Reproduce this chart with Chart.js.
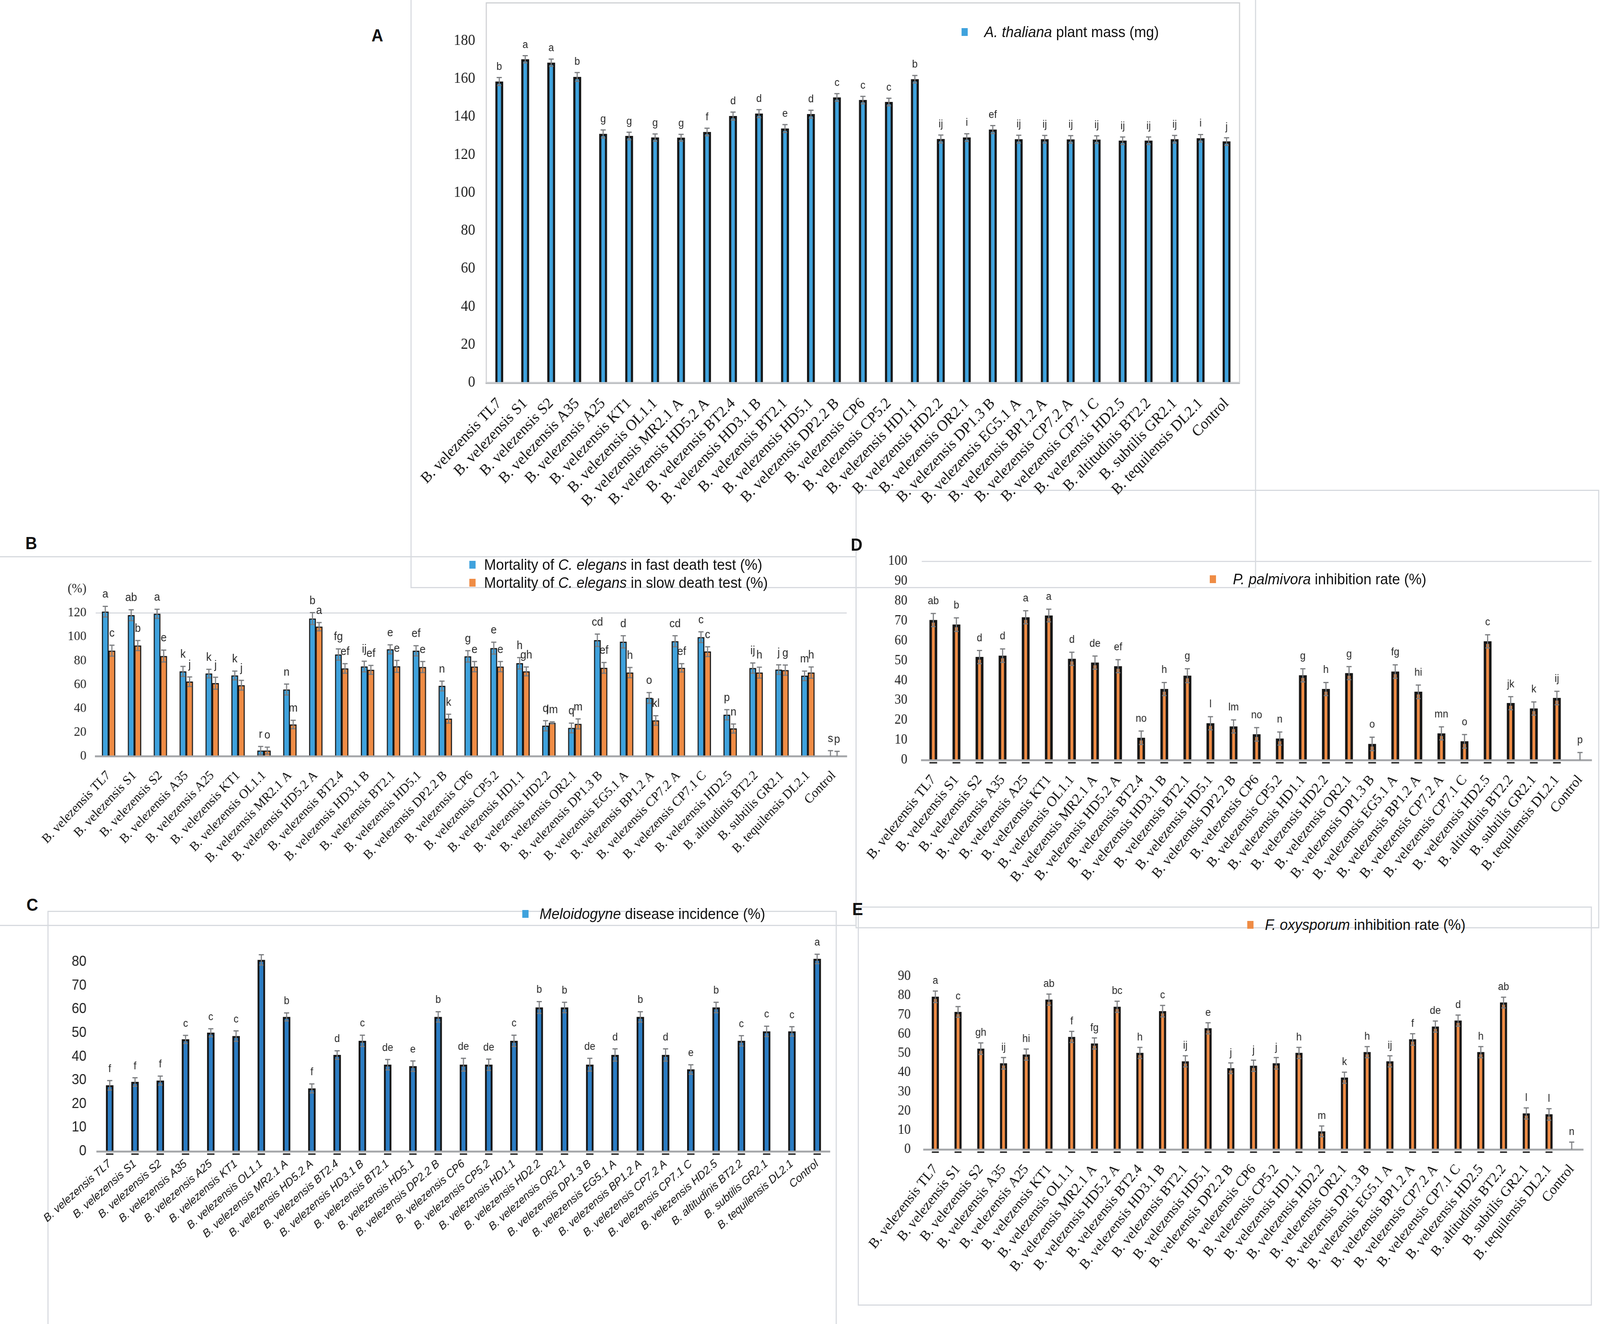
<!DOCTYPE html>
<html>
<head>
<meta charset="utf-8">
<script src="https://cdn.jsdelivr.net/npm/chart.js@4.4.1/dist/chart.umd.min.js"></script>
<style>
  html, body { margin: 0; padding: 0; background: #fff; overflow: hidden; }
  #page { position: relative; width: 4350px; height: 3390px; overflow: hidden; background: #fff; font-family: "Liberation Sans", Arial, sans-serif; transform-origin: 0 0; }
  .frame { position: absolute; border: 3px solid #d7dadf; box-sizing: border-box; }
  canvas { position: absolute; }
  .tag { position: absolute; font-weight: bold; font-size: 44px; line-height: 50px; color: #111; }
  .leg { position: absolute; font-size: 39px; line-height: 44px; white-space: nowrap; color: #111; transform: translateY(-50%); }
  .sq { position: absolute; top: 50%; width: 17px; height: 20px; margin-top: -10px; }
</style>
</head>
<body>
<div id="page">
  <div class="frame" style="left:1116px;top:-10px;width:2299px;height:1516px"></div>
  <div class="frame" style="left:-3px;top:1424px;width:2332px;height:947px"></div>
  <div class="frame" style="left:2326px;top:1254px;width:2022px;height:1123px"></div>
  <div class="frame" style="left:129px;top:2332px;width:2146px;height:1100px"></div>
  <div class="frame" style="left:2332px;top:2321px;width:1996px;height:1022px"></div>

  <canvas id="chartA"></canvas>
  <canvas id="chartB"></canvas>
  <canvas id="chartC"></canvas>
  <canvas id="chartD"></canvas>
  <canvas id="chartE"></canvas>

  <div class="tag" style="left:1010px;top:66px">A</div>
  <div class="tag" style="left:69px;top:1366px">B</div>
  <div class="tag" style="left:72px;top:2292px">C</div>
  <div class="tag" style="left:2313px;top:1370px">D</div>
  <div class="tag" style="left:2317px;top:2303px">E</div>

  <div class="leg" style="left:2676px;top:82px"><span class="sq" style="left:-62px;background:#3fa2dd"></span><i>A. thaliana</i> plant mass (mg)</div>
  <div class="leg" style="left:1316px;top:1446px"><span class="sq" style="left:-40px;background:#3fa2dd"></span>Mortality of <i>C. elegans</i> in fast death test (%)</div>
  <div class="leg" style="left:1316px;top:1492px"><span class="sq" style="left:-40px;background:#ef8c45"></span>Mortality of <i>C. elegans</i> in slow death test (%)</div>
  <div class="leg" style="left:1467px;top:2340px"><span class="sq" style="left:-47px;background:#3fa2dd"></span><i>Meloidogyne</i> disease incidence (%)</div>
  <div class="leg" style="left:3352px;top:1483px"><span class="sq" style="left:-63px;background:#ef8c45"></span><i>P. palmivora</i> inhibition rate (%)</div>
  <div class="leg" style="left:3439px;top:2368px"><span class="sq" style="left:-48px;background:#ef8c45"></span><i>F. oxysporum</i> inhibition rate (%)</div>
</div>

<script>
var strains = ['B. velezensis TL7', 'B. velezensis S1', 'B. velezensis S2', 'B. velezensis A35', 'B. velezensis A25',
  'B. velezensis KT1', 'B. velezensis OL1.1', 'B. velezensis MR2.1 A', 'B. velezensis HD5.2 A', 'B. velezensis BT2.4',
  'B. velezensis HD3.1 B', 'B. velezensis BT2.1', 'B. velezensis HD5.1', 'B. velezensis DP2.2 B', 'B. velezensis CP6',
  'B. velezensis CP5.2', 'B. velezensis HD1.1', 'B. velezensis HD2.2', 'B. velezensis OR2.1', 'B. velezensis DP1.3 B',
  'B. velezensis EG5.1 A', 'B. velezensis BP1.2 A', 'B. velezensis CP7.2 A', 'B. velezensis CP7.1 C', 'B. velezensis HD2.5',
  'B. altitudinis BT2.2', 'B. subtilis GR2.1', 'B. tequilensis DL2.1', 'Control'];

// A - plant mass (mg)
var plantMass = [158.6, 170.3, 168.5, 161.0, 131.0, 129.9, 129.1, 129.0, 132.0, 140.4, 141.7, 133.8, 141.4, 150.2, 148.8,
  147.8, 159.8, 128.3, 129.1, 133.3, 128.2, 128.2, 128.1, 128.0, 127.4, 127.4, 128.2, 128.7, 127.0];
var plantMassErr = [2.1, 1.9, 1.9, 2.3, 2.1, 2.0, 1.9, 1.8, 2.0, 2.1, 2.1, 2.1, 2.1, 2.0, 2.0,
  2.0, 2.0, 2.1, 2.0, 2.1, 2.1, 2.0, 2.0, 2.0, 2.0, 2.0, 2.0, 2.0, 2.0];
var plantMassSig = ['b', 'a', 'a', 'b', 'g', 'g', 'g', 'g', 'f', 'd', 'd', 'e', 'd', 'c', 'c',
  'c', 'b', 'ij', 'i', 'ef', 'ij', 'ij', 'ij', 'ij', 'ij', 'ij', 'ij', 'i', 'j'];

// B - C. elegans mortality (%)
var fastDeath = [121.1, 118.1, 119.3, 71.0, 69.2, 67.6, 4.6, 55.8, 115.3, 85.2, 75.1, 89.5, 88.3, 58.8, 83.6,
  90.5, 77.8, 25.4, 23.6, 97.1, 95.8, 48.8, 96.3, 99.7, 34.7, 73.8, 72.5, 67.3, 0];
var fastErr = [4.5, 4.6, 3.8, 4.2, 3.6, 3.7, 3.5, 4.6, 5.0, 4.7, 4.5, 3.8, 4.3, 4.1, 4.8,
  5.0, 4.8, 4.3, 4.1, 5.2, 5.1, 4.5, 4.6, 4.5, 4.3, 4.3, 4.0, 4.0, 4.6];
var fastSig = ['a', 'ab', 'a', 'k', 'k', 'k', 'r', 'n', 'b', 'fg', 'ij', 'e', 'ef', 'n', 'g',
  'e', 'h', 'q', 'q', 'cd', 'd', 'o', 'cd', 'c', 'p', 'ij', 'j', 'm', 's'];
var slowDeath = [88.4, 92.7, 83.9, 62.4, 61.1, 59.4, 4.6, 26.5, 108.5, 73.5, 72.3, 75.2, 74.7, 31.4, 75.0,
  75.0, 71.0, 27.9, 27.0, 74.0, 70.0, 29.9, 74.0, 87.6, 23.1, 70.0, 72.1, 70.0, 0];
var slowErr = [4.6, 4.2, 5.0, 4.0, 5.0, 4.1, 2.9, 3.5, 3.5, 4.0, 3.7, 5.0, 4.6, 3.7, 4.3,
  4.3, 3.7, 0.8, 4.2, 4.5, 4.3, 4.0, 3.5, 4.1, 3.8, 4.6, 4.3, 4.7, 4.0];
var slowSig = ['c', 'b', 'e', 'j', 'j', 'j', 'o', 'm', 'a', 'ef', 'ef', 'e', 'e', 'k', 'e',
  'e', 'gh', 'lm', 'm', 'ef', 'h', 'kl', 'ef', 'c', 'n', 'h', 'g', 'h', 'p'];

// C - Meloidogyne disease incidence (%)
var meloidogyne = [27.9, 29.3, 29.9, 47.3, 50.1, 48.7, 80.9, 56.8, 26.6, 40.7, 46.7, 36.6, 36.0, 56.8, 36.6,
  36.6, 46.7, 60.8, 60.8, 36.6, 40.7, 56.8, 40.7, 34.6, 60.8, 46.7, 50.7, 50.7, 81.3];
var meloErr = [2.0, 1.8, 1.9, 1.7, 1.7, 2.2, 2.2, 1.7, 1.9, 1.8, 2.4, 2.2, 2.2, 2.2, 2.7,
  2.4, 2.4, 2.5, 2.2, 2.7, 2.6, 2.2, 2.6, 2.0, 2.2, 2.2, 2.2, 2.0, 2.0];
var meloSig = ['f', 'f', 'f', 'c', 'c', 'c', '', 'b', 'f', 'd', 'c', 'de', 'e', 'b', 'de',
  'de', 'c', 'b', 'b', 'de', 'd', 'b', 'd', 'e', 'b', 'c', 'c', 'c', 'a'];

// D - P. palmivora inhibition rate (%)
var palmivora = [70.4, 68.1, 51.8, 52.5, 71.8, 72.7, 50.9, 49.0, 47.2, 11.2, 35.7, 42.4, 18.5, 16.9, 12.9,
  10.8, 42.6, 35.7, 43.7, 8.1, 44.5, 34.3, 13.4, 9.4, 59.7, 28.6, 25.9, 31.2, 0];
var palmErr = [3.3, 3.4, 3.3, 3.4, 3.3, 3.2, 3.3, 3.3, 3.3, 3.4, 3.3, 3.5, 3.3, 3.3, 3.4,
  3.3, 3.3, 3.3, 3.3, 3.4, 3.4, 3.4, 3.3, 3.4, 3.3, 3.3, 3.3, 3.4, 3.8];
var palmSig = ['ab', 'b', 'd', 'd', 'a', 'a', 'd', 'de', 'ef', 'no', 'h', 'g', 'l', 'lm', 'no',
  'n', 'g', 'h', 'g', 'o', 'fg', 'hi', 'mn', 'o', 'c', 'jk', 'k', 'ij', 'p'];

// E - F. oxysporum inhibition rate (%)
var oxysporum = [79.4, 71.5, 52.4, 44.8, 49.3, 77.9, 58.5, 55.1, 74.2, 50.2, 71.9, 45.8, 63.0, 42.2, 43.5,
  44.8, 50.2, 9.4, 37.3, 50.6, 45.8, 57.2, 63.9, 67.0, 50.6, 76.4, 18.7, 18.2, 0];
var oxyErr = [3.0, 2.8, 3.0, 3.0, 2.9, 2.9, 2.9, 2.9, 2.9, 2.9, 3.0, 2.9, 2.9, 2.8, 2.9,
  3.0, 2.9, 2.8, 2.9, 2.9, 2.9, 3.0, 2.9, 2.9, 2.9, 2.8, 2.9, 3.0, 3.8];
var oxySig = ['a', 'c', 'gh', 'ij', 'hi', 'ab', 'f', 'fg', 'bc', 'h', 'c', 'ij', 'e', 'j', 'j',
  'j', 'h', 'm', 'k', 'h', 'ij', 'f', 'de', 'd', 'h', 'ab', 'l', 'l', 'n'];

var BLUE = '#3fa2dd';
var BLUE_DARK = '#2b7cc3';
var ORANGE = '#ef8c45';
var SERIF = '"Liberation Serif", "Times New Roman", serif';
var SANS = '"Liberation Sans", Arial, sans-serif';

// the page is laid out at 4350x3390; squeeze it into whatever viewport we get
function fitPage() {
  var page = document.getElementById('page');
  var vw = document.documentElement.clientWidth || window.innerWidth;
  var vh = document.documentElement.clientHeight || window.innerHeight;
  var sx = vw / 4350, sy = vh / 3390;
  if (Math.abs(sx - 1) > 0.002 || Math.abs(sy - 1) > 0.002) {
    page.style.transform = 'scale(' + sx + ',' + sy + ')';
  }
}
fitPage();

// error bars + significance letters, drawn through the scales
var barMarks = {
  id: 'barMarks',
  beforeDatasetsDraw: function(chart, args, opts) {
    if (!opts.box) return;
    var a = chart.chartArea, ctx = chart.ctx;
    ctx.save();
    ctx.strokeStyle = '#cfd1d4';
    ctx.lineWidth = 3;
    ctx.strokeRect(a.left, a.top, a.right - a.left, a.bottom - a.top);
    ctx.restore();
  },
  afterDatasetsDraw: function(chart, args, opts) {
    var ctx = chart.ctx, ys = chart.scales.y;
    chart.data.datasets.forEach(function(ds, di) {
      var meta = chart.getDatasetMeta(di);
      meta.data.forEach(function(bar, i) {
        var v = ds.data[i], e = ds.errors[i];
        var x = bar.x;
        var top = ys.getPixelForValue(v + e);
        var bot = ys.getPixelForValue(Math.max(0, v - e));
        ctx.save();
        ctx.strokeStyle = '#7b7d80';
        ctx.lineWidth = 3;
        ctx.beginPath();
        ctx.moveTo(x, bot); ctx.lineTo(x, top);
        ctx.moveTo(x - 7, top); ctx.lineTo(x + 7, top);
        if (v - e > 0) { ctx.moveTo(x - 6, bot); ctx.lineTo(x + 6, bot); }
        ctx.stroke();
        // short dark dash under the axis, as in the original
        if (opts.dash && v > 0) {
          ctx.strokeStyle = '#333';
          ctx.lineWidth = 4;
          ctx.beginPath();
          ctx.moveTo(x - bar.width / 2, ys.bottom + 7);
          ctx.lineTo(x + bar.width / 2, ys.bottom + 7);
          ctx.stroke();
        }
        ctx.fillStyle = '#262626';
        ctx.font = opts.font;
        ctx.textAlign = 'center';
        ctx.textBaseline = 'alphabetic';
        ctx.fillText(ds.sig[i], x, top - opts.gap);
        ctx.restore();
      });
    });
  }
};

function panelChart(id, p) {
  var cv = document.getElementById(id);
  var yw = 260, padTop = 40, padRight = 60;
  var plotW = p.right - p.left, plotH = p.bottom - p.top;
  cv.width = yw + plotW + padRight;
  cv.height = padTop + plotH + p.xh;
  cv.style.left = (p.left - yw) + 'px';
  cv.style.top = (p.top - padTop) + 'px';
  return new Chart(cv, {
    type: 'bar',
    data: { labels: strains, datasets: p.datasets },
    options: {
      responsive: false,
      animation: false,
      devicePixelRatio: 1,
      layout: { padding: { top: padTop, right: padRight, left: 0, bottom: 0 } },
      plugins: {
        legend: { display: false },
        tooltip: { enabled: false },
        barMarks: { font: p.sigFont, gap: p.sigGap, box: !!p.box, dash: !!p.dash }
      },
      scales: {
        x: {
          grid: { display: false, drawTicks: false },
          border: { display: true, color: '#a7a9ac', width: 5 },
          ticks: {
            autoSkip: false, minRotation: p.rot, maxRotation: p.rot, padding: p.xpad,
            color: '#111', font: p.xfont
          },
          afterFit: function(s) { s.height = p.xh; }
        },
        y: {
          min: 0, max: p.max,
          grid: {
            drawTicks: false, lineWidth: 3,
            color: function(c) {
              return (p.gridAt !== undefined && c.tick && c.tick.value === p.gridAt) ? '#d9dbe0' : 'rgba(0,0,0,0)';
            }
          },
          border: { display: false },
          ticks: { stepSize: p.step, padding: p.ypad, color: '#222', font: p.yfont, callback: p.ycb },
          afterFit: function(s) { s.width = yw; }
        }
      }
    },
    plugins: [barMarks]
  });
}

function bars(label, values, errs, sig, color, thick, bw) {
  return {
    label: label, data: values, errors: errs, sig: sig,
    backgroundColor: color, borderColor: '#161616', borderWidth: bw,
    barThickness: thick, borderSkipped: 'start'
  };
}

panelChart('chartA', {
  left: 1322, right: 3370, top: -6, bottom: 980, xh: 380,
  max: 200, step: 20, ycb: function(v) { return v === 200 ? '' : v; },
  rot: 45, xpad: 30, ypad: 30,
  xfont: { family: SERIF, size: 40 }, yfont: { family: SERIF, size: 39 },
  sigFont: '27px ' + SANS, sigGap: 20, box: true,
  datasets: [bars('A. thaliana plant mass (mg)', plantMass, plantMassErr, plantMassSig, BLUE, 21, 6)]
});

panelChart('chartB', {
  left: 260, right: 2302, top: 1503, bottom: 1936, xh: 300,
  max: 140, step: 20, gridAt: 120, ycb: function(v) { return v === 140 ? '(%)' : v; },
  rot: 45, xpad: 30, ypad: 25,
  xfont: { family: SERIF, size: 34 }, yfont: { family: SERIF, size: 34 },
  sigFont: '29px ' + SANS, sigGap: 22,
  datasets: [
    bars('Mortality of C. elegans in fast death test (%)', fastDeath, fastErr, fastSig, BLUE, 18, 3),
    bars('Mortality of C. elegans in slow death test (%)', slowDeath, slowErr, slowSig, ORANGE, 18, 3)
  ]
});

panelChart('chartC', {
  left: 264, right: 2256, top: 2392, bottom: 2948, xh: 260,
  max: 90, step: 10, ycb: function(v) { return v === 90 ? '' : v; },
  rot: 40, xpad: 15, ypad: 29,
  xfont: { family: SANS, size: 29, style: 'italic' }, yfont: { family: SANS, size: 36 },
  sigFont: '27px ' + SANS, sigGap: 22, dash: true,
  datasets: [bars('Meloidogyne disease incidence (%)', meloidogyne, meloErr, meloSig, BLUE_DARK, 20, 5)]
});

panelChart('chartD', {
  left: 2506, right: 4327, top: 1417, bottom: 1946, xh: 340,
  max: 100, step: 10, gridAt: 100,
  rot: 50, xpad: 30, ypad: 39,
  xfont: { family: SERIF, size: 37 }, yfont: { family: SERIF, size: 35 },
  sigFont: '27px ' + SANS, sigGap: 24, dash: true,
  datasets: [bars('P. palmivora inhibition rate (%)', palmivora, palmErr, palmSig, ORANGE, 21, 7)]
});

panelChart('chartE', {
  left: 2512, right: 4304, top: 2483, bottom: 2943, xh: 330,
  max: 90, step: 10,
  rot: 50, xpad: 30, ypad: 36,
  xfont: { family: SERIF, size: 37 }, yfont: { family: SERIF, size: 35 },
  sigFont: '27px ' + SANS, sigGap: 18, dash: true,
  datasets: [bars('F. oxysporum inhibition rate (%)', oxysporum, oxyErr, oxySig, ORANGE, 19, 6)]
});
</script>
</body>
</html>
